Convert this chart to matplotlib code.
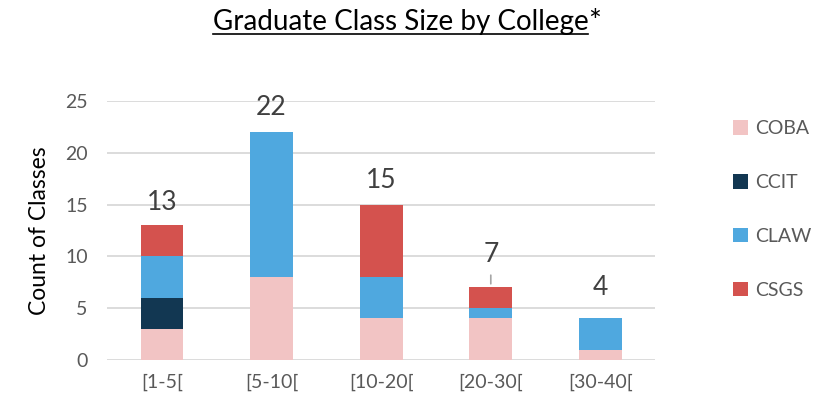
import matplotlib.pyplot as plt
import numpy as np
from matplotlib.patches import Patch
from matplotlib.lines import Line2D

plt.rcParams['font.family'] = ['Lato', 'DejaVu Sans']

# ── Data ──────────────────────────────────────────────────────────────────────
sizes = ["[1-5[", "[5-10[", "[10-20[", "[20-30[", "[30-40["]
colleges = ["COBA", "CCIT", "CLAW", "CSGS"]
coba = [3, 8, 4, 4, 1]
ccit = [3, 0, 0, 0, 0]
claw = [4, 14, 4, 1, 3]
csgs = [3, 0, 7, 2, 0]
colors = ["#f2c4c4", "#123752", "#4fa8df", "#d4524e"]

series = [coba, ccit, claw, csgs]
totals = np.sum(series, axis=0)
label_gap = [2.2, 2.4, 2.3, 3.2, 3.0]

# ── Figure ────────────────────────────────────────────────────────────────────
fig = plt.figure(figsize=(8.18, 4.03), dpi=100)
ax = fig.add_axes([0.131, 0.107, 0.67, 0.642])

x = np.arange(len(sizes))
bottom = np.zeros(len(sizes))
for vals, col in zip(series, colors):
    ax.bar(x, vals, bottom=bottom, width=0.39, color=col, zorder=3)
    bottom += np.array(vals)

for i, t in enumerate(totals):
    if i == 3:
        ax.annotate(str(t), xy=(i, t + 0.35), xytext=(i, t + label_gap[i]),
                    ha="center", va="center", fontsize=19, color="#404040",
                    arrowprops=dict(arrowstyle="-", color="#a6a6a6", lw=1.2,
                                    shrinkA=4, shrinkB=0))
    else:
        ax.text(i, t + label_gap[i], str(t), ha="center", va="center",
                fontsize=19, color="#404040")

ax.set_xlim(-0.5, 4.5)
ax.set_ylim(0, 25)
ax.set_yticks(range(0, 26, 5))
ax.set_xticks(x)
ax.set_xticklabels(sizes)
ax.tick_params(axis="both", length=0, labelsize=14, colors="#595959")
ax.tick_params(axis="x", pad=10)
ax.tick_params(axis="y", pad=14)
ax.grid(axis="y", color="#d9d9d9", lw=1.3, zorder=0)
for s in ax.spines.values():
    s.set_visible(False)
ax.set_ylabel("Count of Classes", fontsize=16.5, color="black", labelpad=11)

# legend
handles = [Patch(facecolor=c, edgecolor="none") for c in colors]
leg = fig.legend(handles, colleges, loc="upper left", bbox_to_anchor=(0.875, 0.745),
                 frameon=False, fontsize=14, labelcolor="#595959",
                 handlelength=0.75, handleheight=0.75, handletextpad=0.35,
                 labelspacing=1.9)

# title with underline (asterisk not underlined)
t1 = fig.text(0.260, 0.945, "Graduate Class Size by College", ha="left", va="center",
              fontsize=20, color="black")
fig.canvas.draw()
bb = t1.get_window_extent().transformed(fig.transFigure.inverted())
fig.text(bb.x1, 0.945, "*", ha="left", va="center", fontsize=22, color="black")
fig.add_artist(Line2D([bb.x0, bb.x1], [bb.y0 + 0.002, bb.y0 + 0.002],
                      transform=fig.transFigure, color="black", lw=1.2))

fig.savefig("out.png", dpi=100)
